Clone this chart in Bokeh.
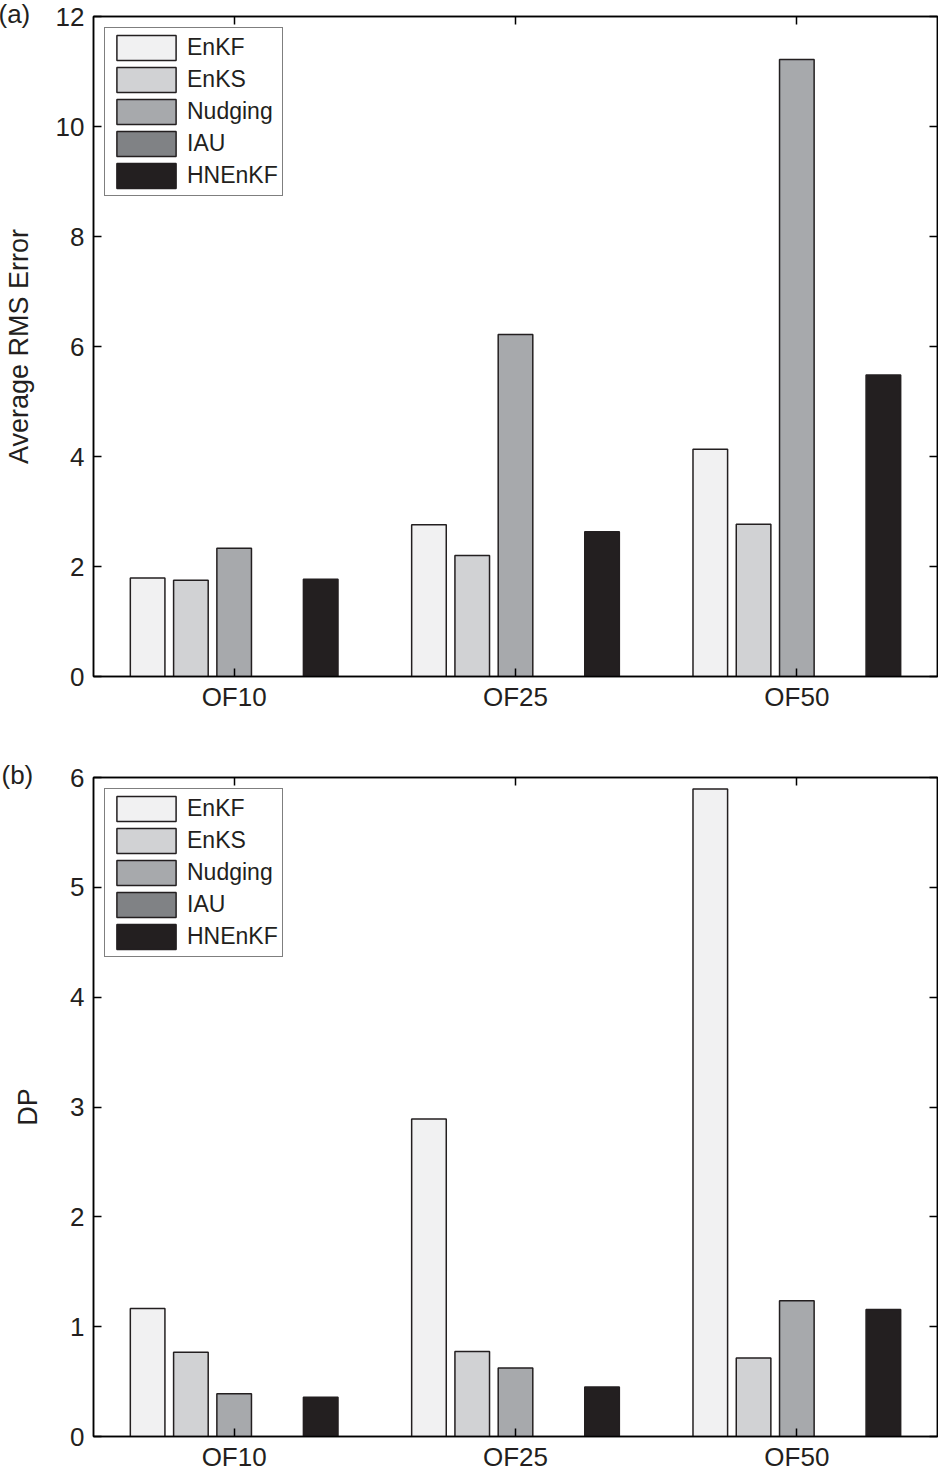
import math
from bokeh.plotting import figure
from bokeh.models import (Range1d, FixedTicker, LinearAxis, Legend, LegendItem,
                          Title, ColumnDataSource)
from bokeh.layouts import column
from bokeh.embed import file_html
from bokeh.resources import INLINE

nan = float("nan")

categories = ["OF10", "OF25", "OF50"]
series = ["EnKF", "EnKS", "Nudging", "IAU", "HNEnKF"]
colors = ["#f1f1f2", "#d1d2d4", "#a7a9ac", "#808285", "#231f20"]

rms_enkf = [1.79, 2.76, 4.13]
rms_enks = [1.75, 2.20, 2.77]
rms_nudging = [2.33, 6.22, 11.22]
rms_iau = [nan, nan, nan]
rms_hnenkf = [1.77, 2.63, 5.48]

dp_enkf = [1.165, 2.89, 5.895]
dp_enks = [0.766, 0.775, 0.714]
dp_nudging = [0.39, 0.624, 1.237]
dp_iau = [nan, nan, nan]
dp_hnenkf = [0.357, 0.45, 1.156]

rms_ticks = [0, 2, 4, 6, 8, 10, 12]
dp_ticks = [0, 1, 2, 3, 4, 5, 6]

FONT = "Liberation Sans"
TXT = "#231f20"
EDGE = "#231f20"
GROUP_STEP = 0.1538
BAR_W = 0.123


def make_panel(values, ylabel, yticks, ymax, tag, height, border_top, border_bottom,
               border_left, label_standoff):
    p = figure(width=938, height=height, output_backend="svg", toolbar_location=None,
               x_range=Range1d(0.5, 3.5), y_range=Range1d(0, ymax),
               min_border_left=border_left, min_border_right=1,
               min_border_top=border_top, min_border_bottom=border_bottom)
    p.background_fill_color = "white"
    p.border_fill_color = "white"
    p.xgrid.visible = False
    p.ygrid.visible = False
    p.outline_line_color = "black"
    p.outline_line_width = 1.5

    cat_idx = [i + 1 for i in range(len(categories))]
    items = []
    for k, (name, vals) in enumerate(zip(series, values)):
        xs = [c + (k - 2) * GROUP_STEP for c in cat_idx]
        src = ColumnDataSource(dict(x=xs, top=vals))
        r = p.vbar(x="x", top="top", bottom=0, width=BAR_W, source=src,
                   fill_color=colors[k], line_color=EDGE, line_width=1.5)
        items.append(LegendItem(label=name, renderers=[r]))

    legend = Legend(items=items, location="top_left", margin=11,
                    label_text_font=FONT, label_text_font_size="23px",
                    label_text_color=TXT, glyph_width=74, glyph_height=31,
                    label_standoff=4, spacing=1, padding=4,
                    border_line_color="black", border_line_width=1.5,
                    background_fill_color="white", background_fill_alpha=1.0)
    p.add_layout(legend, "center")

    xa = p.xaxis[0]
    xa.ticker = FixedTicker(ticks=cat_idx)
    xa.major_label_overrides = {c: categories[i] for i, c in enumerate(cat_idx)}
    ya = p.yaxis[0]
    ya.ticker = FixedTicker(ticks=yticks)
    ya.axis_label = ylabel
    for ax in (xa, ya):
        ax.major_tick_in = 8
        ax.major_tick_out = 0
        ax.minor_tick_in = 0
        ax.minor_tick_out = 0
        ax.axis_line_width = 1.5
        ax.major_tick_line_width = 1.5
        ax.axis_line_color = "black"
        ax.major_tick_line_color = "black"
        ax.major_label_text_font = FONT
        ax.major_label_text_font_size = "26px"
        ax.major_label_text_color = TXT
    xa.major_label_standoff = 5
    ya.major_label_standoff = 9
    ya.axis_label_text_font = FONT
    ya.axis_label_text_font_size = "27px"
    ya.axis_label_text_font_style = "normal"
    ya.axis_label_text_color = TXT
    ya.axis_label_standoff = label_standoff

    top = LinearAxis(ticker=FixedTicker(ticks=cat_idx),
                     major_label_overrides={c: "" for c in cat_idx})
    right = LinearAxis(ticker=FixedTicker(ticks=yticks),
                       major_label_overrides={t: "" for t in yticks})
    for ax in (top, right):
        ax.major_tick_in = 8
        ax.major_tick_out = 0
        ax.minor_tick_in = 0
        ax.minor_tick_out = 0
        ax.axis_line_width = 1.5
        ax.major_tick_line_width = 1.5
        ax.major_label_text_font_size = "0px"
        ax.major_label_standoff = 0
        ax.axis_label_standoff = 0
    p.add_layout(right, "right")
    p.add_layout(top, "above")

    t = Title(text=tag, align="left", vertical_align="top", offset=-(border_left + 2),
              text_font=FONT, text_font_size="26px", text_font_style="normal",
              text_color=TXT)
    t.standoff = -28
    p.add_layout(t, "above")
    return p


pa = make_panel([rms_enkf, rms_enks, rms_nudging, rms_iau, rms_hnenkf],
                "Average RMS Error", rms_ticks, 12, "(a)",
                height=730, border_top=16, border_bottom=54, border_left=93,
                label_standoff=19)
pb = make_panel([dp_enkf, dp_enks, dp_nudging, dp_iau, dp_hnenkf],
                "DP", dp_ticks, 6, "(b)",
                height=744, border_top=47, border_bottom=35, border_left=90,
                label_standoff=24)

layout = column(pa, pb)
open("out.html", "w").write(file_html(layout, INLINE))
